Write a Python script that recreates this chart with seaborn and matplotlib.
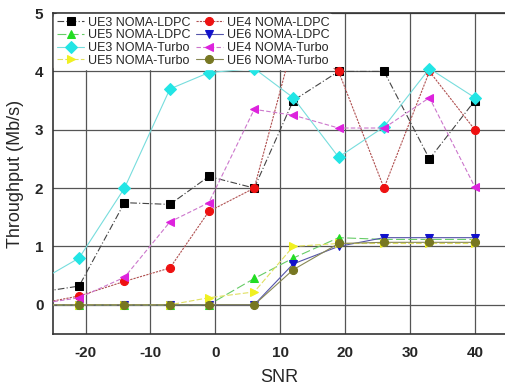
import matplotlib
matplotlib.use("Agg")
import matplotlib.pyplot as plt
import pandas as pd
import seaborn as sns

snr = [-28, -21, -14, -7, -1, 6, 12, 19, 26, 33, 40]

ue3_ldpc = [0.20, 0.32, 1.75, 1.72, 2.20, 2.00, 3.50, 4.00, 4.00, 2.50, 3.50]
ue4_ldpc = [0.00, 0.15, 0.40, 0.63, 1.60, 2.00, 4.50, 4.00, 2.00, 4.00, 3.00]
ue5_ldpc = [0.00, 0.00, 0.00, 0.00, 0.00, 0.45, 0.80, 1.15, 1.12, 1.12, 1.12]
ue6_ldpc = [0.00, 0.00, 0.00, 0.00, 0.00, 0.00, 0.70, 1.00, 1.15, 1.15, 1.15]
ue3_turbo = [0.35, 0.80, 2.00, 3.70, 3.98, 4.05, 3.55, 2.53, 3.05, 4.05, 3.55]
ue4_turbo = [0.00, 0.12, 0.47, 1.42, 1.75, 3.35, 3.25, 3.03, 3.03, 3.55, 2.02]
ue5_turbo = [0.00, 0.00, 0.00, 0.00, 0.12, 0.22, 1.00, 1.05, 1.05, 1.05, 1.05]
ue6_turbo = [0.00, 0.00, 0.00, 0.00, 0.00, 0.00, 0.60, 1.05, 1.07, 1.07, 1.07]

names = ["UE3 NOMA-LDPC", "UE4 NOMA-LDPC", "UE5 NOMA-LDPC", "UE6 NOMA-LDPC",
         "UE3 NOMA-Turbo", "UE4 NOMA-Turbo", "UE5 NOMA-Turbo", "UE6 NOMA-Turbo"]
values = [ue3_ldpc, ue4_ldpc, ue5_ldpc, ue6_ldpc,
          ue3_turbo, ue4_turbo, ue5_turbo, ue6_turbo]

# marker colour, line colour, marker, dash pattern
styles = {
    "UE3 NOMA-LDPC": ("#000000", "#444444", "s", (6, 2, 1, 2)),
    "UE4 NOMA-LDPC": ("#ee1111", "#b05050", "o", (2, 1)),
    "UE5 NOMA-LDPC": ("#22dd22", "#66cc66", "^", (8, 3)),
    "UE6 NOMA-LDPC": ("#1111cc", "#5555aa", "v", ()),
    "UE3 NOMA-Turbo": ("#22e5e5", "#77dddd", "D", ()),
    "UE4 NOMA-Turbo": ("#dd22dd", "#cc77cc", "<", (4, 2)),
    "UE5 NOMA-Turbo": ("#f0f020", "#e0e060", ">", (5, 2)),
    "UE6 NOMA-Turbo": ("#777722", "#888855", "o", ()),
}

rows = []
for name, vals in zip(names, values):
    for x, y in zip(snr, vals):
        rows.append({"SNR": x, "Throughput": y, "Series": name})
df = pd.DataFrame(rows)

sns.set_style("white")
plt.rcParams["font.family"] = ["Liberation Sans", "DejaVu Sans"]
plt.rcParams["axes.unicode_minus"] = False

fig = plt.figure(figsize=(5.06, 3.86), dpi=100)
ax = fig.add_axes([0.105, 0.135, 0.895, 0.831])

for name in names:
    mc, lc, mk, dash = styles[name]
    sub = df[df["Series"] == name]
    sns.lineplot(data=sub, x="SNR", y="Throughput", ax=ax, color=lc,
                 linewidth=0.8, marker=mk, markersize=5.8,
                 markerfacecolor=mc, markeredgecolor=mc, label=name,
                 dashes=False)
    ln = ax.lines[-1]
    if dash:
        ln.set_dashes(dash)
    ln.set_zorder(3)

ax.set_xlim(-25, 44.8)
ax.set_ylim(-0.5, 5)
ax.set_xticks([-20, -10, 0, 10, 20, 30, 40])
ax.set_yticks([0, 1, 2, 3, 4, 5])
ax.grid(True, color="#555555", linewidth=0.9)
ax.tick_params(length=0, labelsize=11)
ax.tick_params(axis="x", pad=9)
ax.tick_params(axis="y", pad=7)
for lab in ax.get_xticklabels() + ax.get_yticklabels():
    lab.set_fontweight("bold")
ax.set_xlabel("SNR", fontsize=13, labelpad=6)
ax.set_ylabel("Throughput (Mb/s)", fontsize=13, labelpad=8)
for s in ["left", "bottom", "top"]:
    ax.spines[s].set_color("#333333")
    ax.spines[s].set_linewidth(1.2)
ax.spines["right"].set_visible(False)

handles, labels = ax.get_legend_handles_labels()
order = [0, 2, 4, 6, 1, 3, 5, 7]
leg = ax.legend([handles[i] for i in order], [labels[i] for i in order],
                ncol=2, loc="upper left", bbox_to_anchor=(0.0, 1.0),
                fontsize=9, frameon=True, framealpha=1, edgecolor="white",
                handlelength=2.2, handletextpad=0.3, columnspacing=0.4,
                labelspacing=0.05, borderpad=0.2, borderaxespad=0.1)
leg.set_zorder(5)

fig.savefig("out.png", dpi=100)
